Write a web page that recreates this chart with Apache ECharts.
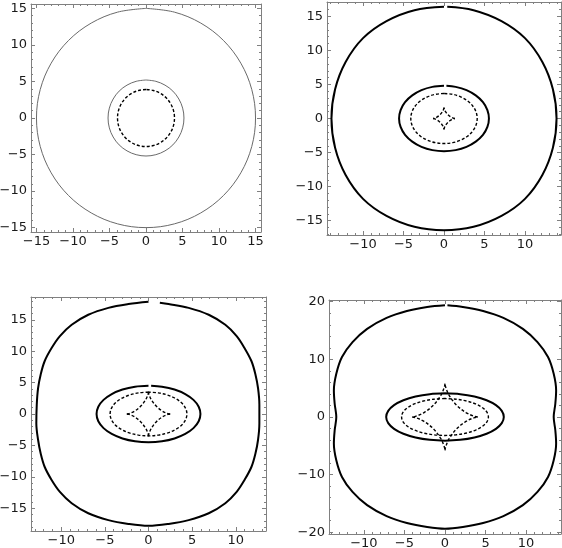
<!DOCTYPE html>
<html><head><meta charset="utf-8">
<script src="https://cdn.jsdelivr.net/npm/echarts@6/dist/echarts.min.js"></script>
<style>html,body{margin:0;padding:0;background:#fff}#c{width:562px;height:548px}</style>
</head><body><div id="c"></div>
<script>
// ---- tick labels ----
const p1XTicks = [-15,-10,-5,0,5,10,15];
const p1YTicks = [-15,-10,-5,0,5,10,15];
const p2XTicks = [-10,-5,0,5,10];
const p2YTicks = [-15,-10,-5,0,5,10,15];
const p3XTicks = [-10,-5,0,5,10];
const p3YTicks = [-15,-10,-5,0,5,10,15];
const p4XTicks = [-10,-5,0,5,10];
const p4YTicks = [-20,-10,0,10,20];

// ---- panel 1 curves ----
const p1Outer = [[0,15],[-3.88,14.49],[-7.5,12.99],[-10.61,10.61],[-12.99,7.5],[-14.49,3.88],[-15,0],[-14.49,-3.88],[-12.99,-7.5],[-10.61,-10.61],[-7.5,-12.99],[-3.88,-14.49],[0,-15],[3.88,-14.49],[7.5,-12.99],[10.61,-10.61],[12.99,-7.5],[14.49,-3.88],[15,0],[14.49,3.88],[12.99,7.5],[10.61,10.61],[7.5,12.99],[3.88,14.49],[0,15]];
const p1Middle = [[0,5.2],[-1.35,5.02],[-2.6,4.5],[-3.68,3.68],[-4.5,2.6],[-5.02,1.35],[-5.2,0],[-5.02,-1.35],[-4.5,-2.6],[-3.68,-3.68],[-2.6,-4.5],[-1.35,-5.02],[0,-5.2],[1.35,-5.02],[2.6,-4.5],[3.68,-3.68],[4.5,-2.6],[5.02,-1.35],[5.2,0],[5.02,1.35],[4.5,2.6],[3.68,3.68],[2.6,4.5],[1.35,5.02],[0,5.2]];
const p1Dashed = [[0,3.9],[-1.01,3.77],[-1.95,3.38],[-2.76,2.76],[-3.38,1.95],[-3.77,1.01],[-3.9,0],[-3.77,-1.01],[-3.38,-1.95],[-2.76,-2.76],[-1.95,-3.38],[-1.01,-3.77],[0,-3.9],[1.01,-3.77],[1.95,-3.38],[2.76,-2.76],[3.38,-1.95],[3.77,-1.01],[3.9,0],[3.77,1.01],[3.38,1.95],[2.76,2.76],[1.95,3.38],[1.01,3.77],[0,3.9]];

// ---- panel 2 curves ----
const p2Outer = [[0,16.4],[-3.65,15.9],[-7.1,14.3],[-10.0,11.8],[-12.15,8.3],[-13.45,4.3],[-13.9,0],[-13.45,-4.3],[-12.15,-8.3],[-10.0,-11.8],[-7.1,-14.3],[-3.65,-15.9],[0,-16.4],[3.65,-15.9],[7.1,-14.3],[10.0,-11.8],[12.15,-8.3],[13.45,-4.3],[13.9,0],[13.45,4.3],[12.15,8.3],[10.0,11.8],[7.1,14.3],[3.65,15.9],[0.4,16.4]];
const p2Inner = [[0,4.8],[-1.44,4.64],[-2.78,4.16],[-3.92,3.39],[-4.81,2.4],[-5.36,1.24],[-5.55,0],[-5.36,-1.24],[-4.81,-2.4],[-3.92,-3.39],[-2.78,-4.16],[-1.44,-4.64],[0,-4.8],[1.44,-4.64],[2.78,-4.16],[3.92,-3.39],[4.81,-2.4],[5.36,-1.24],[5.55,0],[5.36,1.24],[4.81,2.4],[3.92,3.39],[2.78,4.16],[1.44,4.64],[0.3,4.8]];
const p2Dashed = [[0,3.67],[-1.06,3.55],[-2.05,3.18],[-2.9,2.6],[-3.55,1.84],[-3.96,0.95],[-4.1,0],[-3.96,-0.95],[-3.55,-1.84],[-2.9,-2.6],[-2.05,-3.18],[-1.06,-3.55],[0,-3.67],[1.06,-3.55],[2.05,-3.18],[2.9,-2.6],[3.55,-1.84],[3.96,-0.95],[4.1,0],[3.96,0.95],[3.55,1.84],[2.9,2.6],[2.05,3.18],[1.06,3.55],[0,3.67]];
const p2Caustic = [[1.35,0],[1.22,0.03],[0.88,0.2],[0.48,0.57],[0.17,1.04],[0.02,1.44],[0,1.6],
  [-0.02,1.44],[-0.17,1.04],[-0.48,0.57],[-0.88,0.2],[-1.22,0.03],[-1.35,0],
  [-1.22,-0.03],[-0.88,-0.2],[-0.48,-0.57],[-0.17,-1.04],[-0.02,-1.44],[0,-1.6],
  [0.02,-1.44],[0.17,-1.04],[0.48,-0.57],[0.88,-0.2],[1.22,-0.03],[1.35,0]];

// ---- panel 3 curves ----
const p3Outer = [[0,17.86],[-2.3,17.5],[-4.6,16.9],[-6.9,15.8],[-8.8,14.2],[-10.15,12.4],[-11.1,10.5],[-11.9,8.4],[-12.35,6.3],[-12.65,4.1],[-12.8,1.5],[-12.85,-1.5],[-12.65,-4.1],[-12.35,-6.3],[-11.9,-8.4],[-11.1,-10.5],[-10.15,-12.4],[-8.8,-14.2],[-6.9,-15.8],[-4.6,-16.9],[-2.3,-17.5],[0,-17.8],[2.3,-17.5],[4.6,-16.9],[6.9,-15.8],[8.8,-14.2],[10.1,-12.4],[11.0,-10.5],[11.8,-8.4],[12.25,-6.3],[12.55,-4.1],[12.7,-1.5],[12.7,1.5],[12.55,4.1],[12.25,6.3],[11.8,8.4],[11.0,10.5],[10.1,12.4],[8.8,14.2],[6.9,15.8],[4.6,16.9],[2.3,17.5],[1.3,17.7]];
const p3Inner = [[0,4.5],[-1.54,4.35],[-2.98,3.9],[-4.21,3.18],[-5.15,2.25],[-5.75,1.16],[-5.95,0],[-5.75,-1.16],[-5.15,-2.25],[-4.21,-3.18],[-2.98,-3.9],[-1.54,-4.35],[0,-4.5],[1.54,-4.35],[2.98,-3.9],[4.21,-3.18],[5.15,-2.25],[5.75,-1.16],[5.95,0],[5.75,1.16],[5.15,2.25],[4.21,3.18],[2.98,3.9],[1.54,4.35],[0.3,4.5]];
const p3Dashed = [[0,3.48],[-1.14,3.36],[-2.2,3.01],[-3.11,2.46],[-3.81,1.74],[-4.25,0.9],[-4.4,0],[-4.25,-0.9],[-3.81,-1.74],[-3.11,-2.46],[-2.2,-3.01],[-1.14,-3.36],[0,-3.48],[1.14,-3.36],[2.2,-3.01],[3.11,-2.46],[3.81,-1.74],[4.25,-0.9],[4.4,0],[4.25,0.9],[3.81,1.74],[3.11,2.46],[2.2,3.01],[1.14,3.36],[0,3.48]];
const p3Caustic = [[2.48,0],[2.23,0.06],[1.61,0.44],[0.88,1.26],[0.31,2.31],[0.04,3.2],[0,3.55],
  [-0.04,3.2],[-0.31,2.31],[-0.88,1.26],[-1.61,0.44],[-2.23,0.06],[-2.48,0],
  [-2.23,-0.06],[-1.61,-0.44],[-0.88,-1.26],[-0.31,-2.31],[-0.04,-3.2],[0,-3.55],
  [0.04,-3.2],[0.31,-2.31],[0.88,-1.26],[1.61,-0.44],[2.23,-0.06],[2.48,0]];

// ---- panel 4 curves ----
const p4Outer = [[0,19.4],[-2.2,19.1],[-4.7,18.4],[-7.2,17.2],[-9.6,15.3],[-11.4,13.0],[-12.7,10.4],[-13.4,7.5],[-13.7,4.6],[-13.6,2.3],[-13.4,0],[-13.6,-2.3],[-13.7,-4.6],[-13.4,-7.5],[-12.7,-10.4],[-11.4,-13.0],[-9.6,-15.3],[-7.2,-17.2],[-4.7,-18.4],[-2.2,-19.1],[0,-19.4],[2.2,-19.1],[4.7,-18.4],[7.2,-17.2],[9.6,-15.3],[11.4,-13.0],[12.7,-10.4],[13.4,-7.5],[13.7,-4.6],[13.6,-2.3],[13.4,0],[13.6,2.3],[13.7,4.6],[13.4,7.5],[12.7,10.4],[11.4,13.0],[9.6,15.3],[7.2,17.2],[4.7,18.4],[2.2,19.1],[0.3,19.4]];
const p4Inner = [[0,4.1],[-1.88,3.96],[-3.63,3.55],[-5.13,2.9],[-6.28,2.05],[-7.0,1.06],[-7.25,0],[-7.0,-1.06],[-6.28,-2.05],[-5.13,-2.9],[-3.63,-3.55],[-1.88,-3.96],[0,-4.1],[1.88,-3.96],[3.63,-3.55],[5.13,-2.9],[6.28,-2.05],[7.0,-1.06],[7.25,0],[7.0,1.06],[6.28,2.05],[5.13,2.9],[3.63,3.55],[1.88,3.96],[0,4.1]];
const p4Dashed = [[0,3.2],[-1.38,3.09],[-2.68,2.77],[-3.78,2.26],[-4.63,1.6],[-5.17,0.83],[-5.35,0],[-5.17,-0.83],[-4.63,-1.6],[-3.78,-2.26],[-2.68,-2.77],[-1.38,-3.09],[0,-3.2],[1.38,-3.09],[2.68,-2.77],[3.78,-2.26],[4.63,-1.6],[5.17,-0.83],[5.35,0],[5.17,0.83],[4.63,1.6],[3.78,2.26],[2.68,2.77],[1.38,3.09],[0,3.2]];
const p4Caustic = [[4.05,0],[3.65,0.1],[2.63,0.73],[1.43,2.05],[0.51,3.77],[0.07,5.23],[0,5.8],
  [-0.07,5.23],[-0.51,3.77],[-1.43,2.05],[-2.63,0.73],[-3.65,0.1],[-4.05,0],
  [-3.65,-0.1],[-2.63,-0.73],[-1.43,-2.05],[-0.51,-3.77],[-0.07,-5.23],[0,-5.8],
  [0.07,-5.23],[0.51,-3.77],[1.43,-2.05],[2.63,-0.73],[3.65,-0.1],[4.05,0]];

// ---- styles ----
const STY = {
  thin:   {color:'#6a6a6a', width:1, type:'solid'},
  thinDash:{color:'#000', width:1.4, type:[3,2]},
  bold:   {color:'#000', width:2, type:'solid'},
  dash:   {color:'#000', width:1.4, type:[3,2]}
};
const FRAME = '#808080';

const panels = [
  {grid:{left:31,top:4,width:230,height:228}, xr:15.75, yr:15.6, xT:p1XTicks, yT:p1YTicks, xm:1, ym:1,
   curves:[[p1Outer,'thin'],[p1Middle,'thin'],[p1Dashed,'thinDash']], caustic:null},
  {grid:{left:327,top:2,width:234,height:233}, xr:14.45, yr:17.1, xT:p2XTicks, yT:p2YTicks, xm:1, ym:1,
   curves:[[p2Outer,'bold'],[p2Inner,'bold'],[p2Dashed,'dash']], caustic:p2Caustic},
  {grid:{left:31,top:297,width:235,height:234}, xr:13.46, yr:18.63, xT:p3XTicks, yT:p3YTicks, xm:1, ym:1,
   curves:[[p3Outer,'bold'],[p3Inner,'bold'],[p3Dashed,'dash']], caustic:p3Caustic},
  {grid:{left:329,top:300,width:232,height:234}, xr:14.3, yr:20.3, xT:p4XTicks, yT:p4YTicks, xm:1, ym:2,
   curves:[[p4Outer,'bold'],[p4Inner,'bold'],[p4Dashed,'dash']], caustic:p4Caustic}
];

function fmt(v){ return v < 0 ? '\u2212' + Math.abs(v) : String(v); }
function minors(r, step, majors){
  const out = [];
  const n = Math.floor(r / step);
  for (let i = -n; i <= n; i++) { const v = i * step; if (majors.indexOf(v) < 0) out.push(v); }
  return out;
}
const labelStyle = {fontSize:13, color:'#1a1a1a', fontFamily:'DejaVu Sans, Liberation Sans, sans-serif'};

const grids = [], xAxes = [], yAxes = [], series = [];
panels.forEach((p, gi) => {
  grids.push(Object.assign({outerBoundsMode:'none', containLabel:false, show:false}, p.grid));
  const xMin = minors(p.xr, p.xm, p.xT), yMin = minors(p.yr, p.ym, p.yT);
  const mk = (pos, ticks, len, showLine, labels, r, margin) => ({
    type:'value', gridIndex:gi, min:-r, max:r, position:pos,
    axisLine:{show:showLine, onZero:false, lineStyle:{color:FRAME, width:1}},
    axisTick:{show:true, inside:true, length:len, customValues:ticks, lineStyle:{color:FRAME, width:1}},
    axisLabel: labels ? Object.assign({show:true, customValues:ticks, formatter:fmt, margin:margin}, labelStyle) : {show:false},
    splitLine:{show:false}, minorTick:{show:false}, z:1
  });
  const xBase = xAxes.length, yBase = yAxes.length;
  xAxes.push(mk('bottom', p.xT, 4, true, true, p.xr, 3));
  xAxes.push(mk('bottom', xMin, 2, false, false, p.xr));
  xAxes.push(mk('top', p.xT, 4, true, false, p.xr));
  xAxes.push(mk('top', xMin, 2, false, false, p.xr));
  yAxes.push(mk('left', p.yT, 4, true, true, p.yr, 4));
  yAxes.push(mk('left', yMin, 2, false, false, p.yr));
  yAxes.push(mk('right', p.yT, 4, true, false, p.yr));
  yAxes.push(mk('right', yMin, 2, false, false, p.yr));
  const add = (data, sty) => series.push({
    type:'line', xAxisIndex:xBase, yAxisIndex:yBase, data:data, smooth:0.35,
    symbol:'none', showSymbol:false, silent:true, animation:false, z:3,
    lineStyle:Object.assign({}, STY[sty])
  });
  p.curves.forEach(c => add(c[0], c[1]));
  if (p.caustic) {
    for (let k = 0; k < 4; k++) add(p.caustic.slice(k * 6, k * 6 + 7), 'dash');
  }
});

const chart = echarts.init(document.getElementById('c'), null, {renderer:'canvas'});
chart.setOption({animation:false, backgroundColor:'#fff', grid:grids, xAxis:xAxes, yAxis:yAxes, series:series});
</script>
</body></html>
